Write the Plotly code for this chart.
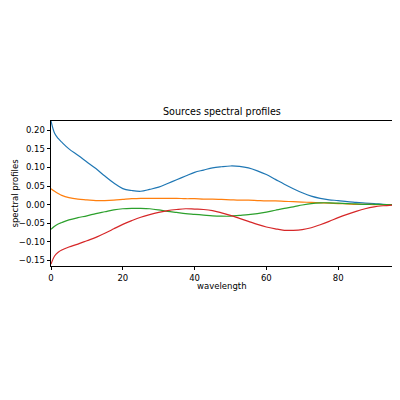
import plotly.graph_objects as go

# wavelength samples
wavelength = [0, 1, 2, 3, 5, 7.5, 10, 12.5, 15, 17.5, 20, 22.5, 25, 27.5, 30,
              32.5, 35, 37.5, 40, 42.5, 45, 47.5, 50, 52.5, 55, 57.5, 60, 62.5,
              65, 67.5, 70, 72.5, 75, 77.5, 80, 82.5, 85, 87.5, 90, 92.5, 95]

source_0 = [0.225, 0.192, 0.178, 0.168, 0.150, 0.133, 0.115, 0.097, 0.077, 0.058,
            0.043, 0.038, 0.036, 0.041, 0.047, 0.057, 0.067, 0.077, 0.087, 0.093,
            0.099, 0.102, 0.104, 0.103, 0.099, 0.091, 0.081, 0.068, 0.055, 0.043,
            0.032, 0.023, 0.017, 0.013, 0.011, 0.008, 0.006, 0.004, 0.003, 0.001,
            0.000]

source_1 = [0.043, 0.036, 0.030, 0.025, 0.019, 0.015, 0.013, 0.011, 0.011, 0.012,
            0.014, 0.016, 0.017, 0.017, 0.017, 0.017, 0.017, 0.016, 0.016, 0.015,
            0.015, 0.014, 0.013, 0.012, 0.012, 0.011, 0.010, 0.010, 0.009, 0.008,
            0.007, 0.006, 0.005, 0.004, 0.003, 0.002, 0.001, 0.001, 0.000, 0.000,
            0.000]

source_2 = [-0.066, -0.058, -0.052, -0.048, -0.041, -0.035, -0.030, -0.024, -0.019,
            -0.014, -0.011, -0.010, -0.010, -0.011, -0.014, -0.018, -0.021, -0.024,
            -0.026, -0.028, -0.030, -0.031, -0.031, -0.029, -0.027, -0.024, -0.020,
            -0.015, -0.010, -0.006, -0.001, 0.003, 0.005, 0.005, 0.004, 0.003,
            0.002, 0.001, 0.001, 0.000, 0.000]

source_3 = [-0.160, -0.138, -0.128, -0.122, -0.114, -0.106, -0.097, -0.088, -0.077,
            -0.065, -0.053, -0.043, -0.034, -0.027, -0.021, -0.016, -0.013, -0.011,
            -0.012, -0.013, -0.016, -0.022, -0.029, -0.037, -0.045, -0.053, -0.060,
            -0.065, -0.069, -0.069, -0.067, -0.062, -0.054, -0.045, -0.035, -0.026,
            -0.018, -0.011, -0.006, -0.003, -0.001]

sources = [source_0, source_1, source_2, source_3]
colors = ['#1f77b4', '#ff7f0e', '#2ca02c', '#d62728']

font_family = 'DejaVu Sans'
label_font = dict(family=font_family, size=8.5, color='black')

data = []
for values, color in zip(sources, colors):
    data.append(go.Scatter(
        x=wavelength,
        y=values,
        mode='lines',
        line=dict(color=color, width=1.2, shape='spline'),
        showlegend=False,
    ))

fig = go.Figure(data=data)

axis_style = dict(
    showgrid=False,
    zeroline=False,
    showline=True,
    linecolor='black',
    linewidth=0.8,
    mirror=True,
    ticks='outside',
    ticklen=3.5,
    tickwidth=0.8,
    tickcolor='black',
    tickfont=label_font,
    automargin=False,
)

fig.update_xaxes(range=[0, 95], dtick=20, tick0=0, **axis_style)
fig.update_yaxes(range=[-0.165, 0.225], dtick=0.05, tick0=0, tickformat='.2f', **axis_style)

# title and axis labels as annotations, so the margins stay put
fig.add_annotation(
    text='Sources spectral profiles',
    x=0.5, y=1, xref='paper', yref='paper',
    xanchor='center', yanchor='bottom', yshift=2,
    showarrow=False,
    font=dict(family=font_family, size=9.6, color='black'),
)
fig.add_annotation(
    text='wavelength',
    x=0.5, y=0, xref='paper', yref='paper',
    xanchor='center', yanchor='middle', yshift=-20,
    showarrow=False,
    font=label_font,
)
fig.add_annotation(
    text='spectral profiles',
    x=0, y=0.5, xref='paper', yref='paper',
    xanchor='center', yanchor='middle', xshift=-37,
    textangle=-90,
    showarrow=False,
    font=label_font,
)

# the page body adds 8px on the left and top, margins account for it
fig.update_layout(
    width=400,
    height=400,
    margin=dict(l=43, r=16, t=113, b=142),
    paper_bgcolor='white',
    plot_bgcolor='white',
)

fig.write_html("out.html")
